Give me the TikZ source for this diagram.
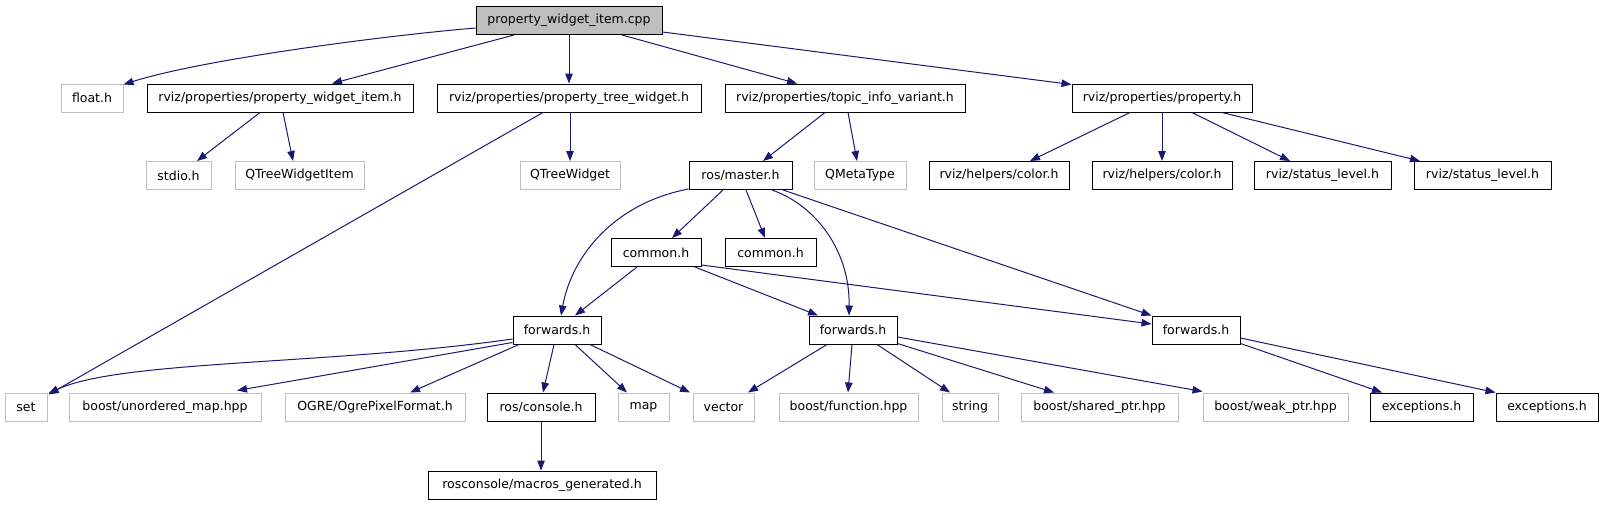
\documentclass[tikz,border=0pt]{standalone}
\usepackage{fontspec}
\setmainfont{DejaVu Sans}
\usetikzlibrary{arrows.meta}
\definecolor{edgec}{HTML}{191970}
\definecolor{grayb}{HTML}{BFBFBF}
\tikzset{
  box/.style={rectangle, minimum height=28pt, inner sep=0pt, line width=1pt,
    font=\fontsize{12.5}{15}\selectfont, fill=white},
  gbox/.style={box, draw=grayb},
  bbox/.style={box, draw=black},
  rootbox/.style={box, draw=black, fill=grayb},
  edge/.style={draw=edgec, line width=1pt, -{Triangle[length=10pt,width=7.5pt]}}
}
\begin{document}
\begin{tikzpicture}[x=1pt,y=-1pt]
\useasboundingbox (0,0) rectangle (1603,504);
% row 1
\node[rootbox, minimum width=186pt] (cpp) at (569,20.5) {property\_widget\_item.cpp};
% row 2
\node[gbox, minimum width=62pt] (float) at (92,98) {float.h};
\node[bbox, minimum width=266pt] (pwi) at (280,98) {rviz/properties/property\_widget\_item.h};
\node[bbox, minimum width=264pt] (ptw) at (569,98) {rviz/properties/property\_tree\_widget.h};
\node[bbox, minimum width=240pt] (tiv) at (845,98) {rviz/properties/topic\_info\_variant.h};
\node[bbox, minimum width=180pt] (prop) at (1162,98) {rviz/properties/property.h};
% row 3
\node[gbox, minimum width=65pt] (stdio) at (178.5,175.5) {stdio.h};
\node[gbox, minimum width=129pt] (qtwi) at (299.5,175.5) {QTreeWidgetItem};
\node[gbox, minimum width=100pt] (qtw) at (570,175.5) {QTreeWidget};
\node[bbox, minimum width=103pt] (master) at (740.5,175.5) {ros/master.h};
\node[gbox, minimum width=92pt] (qmeta) at (860,175.5) {QMetaType};
\node[bbox, minimum width=140pt] (color1) at (999,175.5) {rviz/helpers/color.h};
\node[bbox, minimum width=140pt] (color2) at (1162,175.5) {rviz/helpers/color.h};
\node[bbox, minimum width=137pt] (status1) at (1322.5,175.5) {rviz/status\_level.h};
\node[bbox, minimum width=137pt] (status2) at (1482.5,175.5) {rviz/status\_level.h};
% row 4
\node[bbox, minimum width=90pt] (common1) at (656,252.5) {common.h};
\node[bbox, minimum width=91pt] (common2) at (770.5,252.5) {common.h};
% row 5
\node[bbox, minimum width=88pt] (fw1) at (557,330) {forwards.h};
\node[bbox, minimum width=88pt] (fw2) at (853,330) {forwards.h};
\node[bbox, minimum width=88pt] (fw3) at (1196,330) {forwards.h};
% row 6
\node[gbox, minimum width=42pt] (set) at (26,407) {set};
\node[gbox, minimum width=192pt] (unord) at (165,407) {boost/unordered\_map.hpp};
\node[gbox, minimum width=180pt] (ogre) at (375,407) {OGRE/OgrePixelFormat.h};
\node[bbox, minimum width=108pt] (console) at (541,407) {ros/console.h};
\node[gbox, minimum width=51pt] (map) at (643.5,407) {map};
\node[gbox, minimum width=61pt] (vector) at (723.5,407) {vector};
\node[gbox, minimum width=139pt] (function) at (848.5,407) {boost/function.hpp};
\node[gbox, minimum width=56pt] (string) at (970,407) {string};
\node[gbox, minimum width=157pt] (shared) at (1099.5,407) {boost/shared\_ptr.hpp};
\node[gbox, minimum width=145pt] (weak) at (1275.5,407) {boost/weak\_ptr.hpp};
\node[bbox, minimum width=103pt] (exc1) at (1421.5,407) {exceptions.h};
\node[bbox, minimum width=102pt] (exc2) at (1547,407) {exceptions.h};
% row 7
\node[bbox, minimum width=228pt] (macros) at (542,485) {rosconsole/macros\_generated.h};

% edges
\draw[edge] ([yshift=-7.5pt]cpp.west) .. controls (380,36) and (200,60) .. ([yshift=-1pt]float.north east);
\draw[edge] ([xshift=-55pt]cpp.south) -- ([xshift=52pt]pwi.north);
\draw[edge] (cpp.south) -- (ptw.north);
\draw[edge] ([xshift=53pt]cpp.south) -- ([xshift=-48pt]tiv.north);
\draw[edge] ([yshift=-11.5pt]cpp.east) -- ([yshift=-1pt]prop.north west);

\draw[edge] ([xshift=-20pt]pwi.south) -- ([xshift=18.5pt]stdio.north);
\draw[edge] ([xshift=3pt]pwi.south) -- ([xshift=-6.5pt]qtwi.north);
\draw[edge] ([xshift=1pt]ptw.south) -- (qtw.north);
\draw[edge] ([xshift=-26pt]ptw.south) -- ([xshift=1pt,yshift=-2pt]set.north east);
\draw[edge] ([xshift=-20pt]tiv.south) -- ([xshift=22.5pt]master.north);
\draw[edge] ([xshift=3pt]tiv.south) -- ([xshift=-3pt]qmeta.north);
\draw[edge] ([xshift=-32pt]prop.south) -- ([xshift=31pt]color1.north);
\draw[edge] (prop.south) -- (color2.north);
\draw[edge] ([xshift=30pt]prop.south) -- ([xshift=-32.5pt]status1.north);
\draw[edge] ([xshift=60pt]prop.south) -- ([xshift=-62.5pt]status2.north);

\draw[edge] ([yshift=1pt]master.south west) .. controls (615,203) and (572,255) .. ([xshift=4pt]fw1.north);
\draw[edge] ([xshift=-17.5pt]master.south) -- ([xshift=16pt]common1.north);
\draw[edge] ([xshift=5.5pt]master.south) -- ([xshift=-5.5pt]common2.north);
\draw[edge] ([xshift=31.5pt]master.south) .. controls (815,205) and (850,250) .. ([xshift=-4pt]fw2.north);
\draw[edge] ([xshift=42.5pt]master.south) -- (fw3.north west);

\draw[edge] ([xshift=-19pt]common1.south) -- ([xshift=18pt]fw1.north);
\draw[edge] ([xshift=39pt]common1.south) -- ([xshift=-35pt]fw2.north);
\draw[edge] ([yshift=2pt]common1.south east) -- ([yshift=6pt]fw3.west);

\draw[edge] ([yshift=-9pt]fw1.west) .. controls (330,365) and (120,360) .. ([xshift=1pt,yshift=-1pt]set.north east);
\draw[edge] ([yshift=2pt]fw1.south west) -- ([xshift=72pt,yshift=2pt]unord.north);
\draw[edge] ([xshift=-38pt]fw1.south) -- ([xshift=35pt]ogre.north);
\draw[edge] ([xshift=-3pt]fw1.south) -- ([xshift=2pt]console.north);
\draw[edge] ([xshift=18pt]fw1.south) -- ([xshift=-16.5pt]map.north);
\draw[edge] ([xshift=33pt]fw1.south) -- ([xshift=-33.5pt]vector.north);

\draw[edge] ([xshift=-26pt]fw2.south) -- ([xshift=24.5pt]vector.north);
\draw[edge] ([xshift=-1pt]fw2.south) -- ([xshift=-0.5pt]function.north);
\draw[edge] ([xshift=24pt]fw2.south) -- ([xshift=-20pt]string.north);
\draw[edge] ([yshift=1pt]fw2.south east) -- ([xshift=-45.5pt]shared.north);
\draw[edge] ([yshift=-7pt]fw2.east) -- ([yshift=1pt]weak.north west);

\draw[edge] (console.south) -- ([xshift=-1pt]macros.north);

\draw[edge] ([yshift=1pt]fw3.south east) -- ([xshift=-39.5pt]exc1.north);
\draw[edge] ([yshift=-8pt]fw3.east) -- (exc2.north west);
\end{tikzpicture}
\end{document}
